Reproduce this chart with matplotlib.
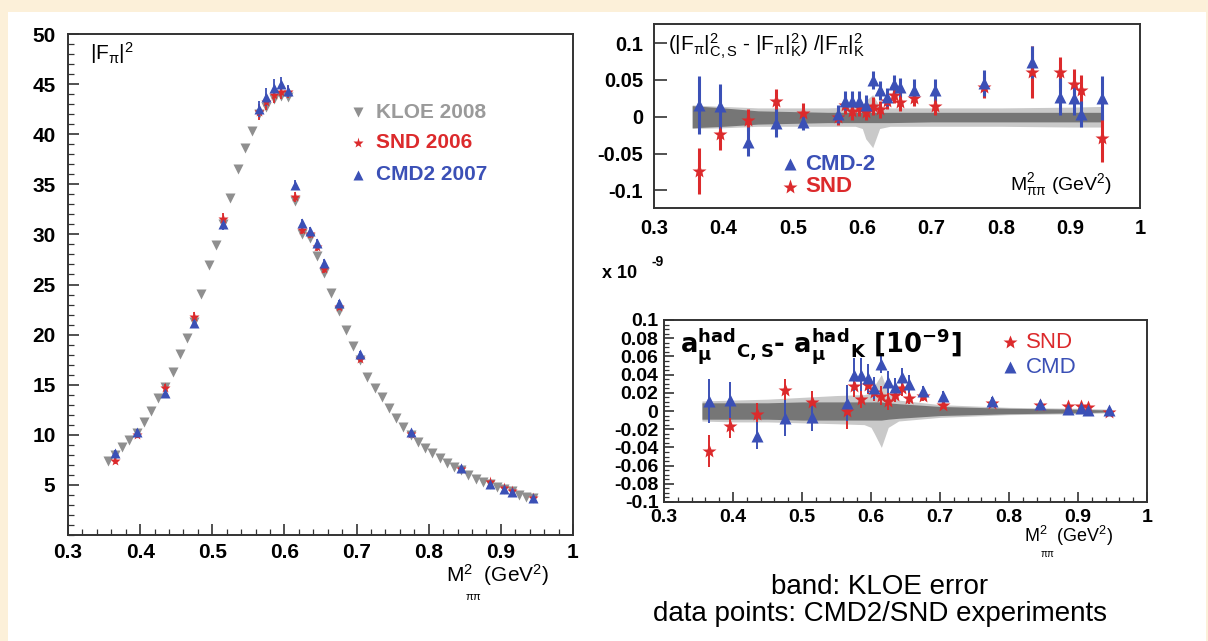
import matplotlib
matplotlib.use('Agg')
import matplotlib.pyplot as plt
from matplotlib.patches import Rectangle
from matplotlib.ticker import MultipleLocator, NullLocator

plt.rcParams['font.family'] = ['Liberation Sans', 'DejaVu Sans']
plt.rcParams['mathtext.fontset'] = 'custom'
plt.rcParams['mathtext.rm'] = 'Liberation Sans'
plt.rcParams['mathtext.it'] = 'Liberation Sans'
plt.rcParams['mathtext.bf'] = 'Liberation Sans:bold'
plt.rcParams['mathtext.default'] = 'regular'

# KLOE 2008 |F_pi|^2, bins of 0.01 GeV^2
kloe_x = [0.355, 0.365, 0.375, 0.385, 0.395, 0.405, 0.415, 0.425, 0.435, 0.445,
          0.455, 0.465, 0.475, 0.485, 0.495, 0.505, 0.515, 0.525, 0.535, 0.545,
          0.555, 0.565, 0.575, 0.585, 0.595, 0.605, 0.615, 0.625, 0.635, 0.645,
          0.655, 0.665, 0.675, 0.685, 0.695, 0.705, 0.715, 0.725, 0.735, 0.745,
          0.755, 0.765, 0.775, 0.785, 0.795, 0.805, 0.815, 0.825, 0.835, 0.845,
          0.855, 0.865, 0.875, 0.885, 0.895, 0.905, 0.915, 0.925, 0.935, 0.945]
kloe_ff = [7.4, 8.0, 8.8, 9.5, 10.2, 11.3, 12.4, 13.7, 14.8, 16.3,
           18.1, 19.7, 21.3, 24.1, 26.9, 28.9, 31.0, 33.6, 36.5, 38.6,
           40.3, 42.0, 42.7, 43.5, 43.8, 43.7, 33.3, 30.0, 29.6, 27.8,
           26.1, 24.2, 22.4, 20.5, 18.9, 17.5, 15.8, 14.7, 13.8, 12.7,
           11.7, 10.8, 10.0, 9.3, 8.7, 8.2, 7.7, 7.2, 6.8, 6.5,
           6.0, 5.6, 5.3, 5.1, 4.8, 4.6, 4.4, 4.0, 3.8, 3.7]

# CMD-2 / SND energy points
exp_x = [0.365, 0.395, 0.435, 0.475, 0.515, 0.565, 0.575, 0.585, 0.595, 0.605, 0.615, 0.625,
         0.635, 0.645, 0.655, 0.675, 0.705, 0.775, 0.845, 0.885, 0.905, 0.915, 0.945]

cmd_ff = [8.2, 10.3, 14.2, 21.2, 31.0, 42.5, 43.7, 44.6, 45.0, 44.3, 34.9, 31.1,
          30.3, 29.1, 27.1, 23.2, 18.1, 10.3, 6.7, 5.1, 4.6, 4.3, 3.7]
cmd_ff_err = [0.3, 0.3, 0.4, 0.5, 0.6, 0.8, 0.9, 0.9, 0.7, 0.6, 0.5, 0.4,
              0.4, 0.4, 0.4, 0.3, 0.3, 0.2, 0.15, 0.12, 0.1, 0.1, 0.1]
snd_ff = [7.4, 10.0, 14.7, 21.8, 31.5, 42.2, 43.2, 43.9, 44.2, 44.2, 33.7, 30.4,
          30.0, 28.7, 26.5, 22.8, 17.6, 10.1, 6.6, 5.3, 4.7, 4.4, 3.7]
snd_ff_err = [0.3, 0.3, 0.4, 0.5, 0.6, 0.8, 0.8, 0.8, 0.7, 0.6, 0.5, 0.4,
              0.4, 0.4, 0.4, 0.3, 0.3, 0.2, 0.15, 0.12, 0.1, 0.1, 0.1]

# relative difference to KLOE
cmd_rel = [0.016, 0.014, -0.034, -0.009, -0.007, 0.004, 0.022, 0.022, 0.022, 0.016, 0.050, 0.036,
           0.027, 0.045, 0.040, 0.037, 0.036, 0.046, 0.074, 0.027, 0.025, 0.004, 0.026]
cmd_rel_err = [0.040, 0.031, 0.020, 0.019, 0.011, 0.012, 0.013, 0.013, 0.013, 0.013, 0.012, 0.013,
               0.012, 0.012, 0.013, 0.014, 0.015, 0.018, 0.022, 0.025, 0.022, 0.018, 0.030]
snd_rel = [-0.074, -0.023, -0.004, 0.021, 0.005, -0.001, 0.016, 0.008, 0.013, 0.007, 0.015, 0.010,
           0.022, 0.030, 0.020, 0.026, 0.014, 0.040, 0.061, 0.061, 0.045, 0.037, -0.029]
snd_rel_err = [0.031, 0.022, 0.015, 0.017, 0.013, 0.010, 0.012, 0.012, 0.012, 0.012, 0.012, 0.012,
               0.012, 0.012, 0.012, 0.011, 0.012, 0.014, 0.035, 0.020, 0.020, 0.020, 0.032]

# KLOE error band (relative)
band_x = [0.355, 0.40, 0.45, 0.50, 0.55, 0.59, 0.60, 0.605, 0.615, 0.625, 0.64, 0.70, 0.80, 0.90, 0.945]
rel_stat_hi = [0.015, 0.012, 0.008, 0.007, 0.006, 0.006, 0.006, 0.006, 0.006, 0.006, 0.006, 0.006, 0.006, 0.006, 0.006]
rel_stat_lo = [-0.015, -0.013, -0.010, -0.009, -0.008, -0.008, -0.008, -0.008, -0.008, -0.008, -0.008, -0.007, -0.007, -0.007, -0.007]
rel_tot_hi = [0.016, 0.014, 0.012, 0.012, 0.012, 0.013, 0.016, 0.022, 0.030, 0.014, 0.012, 0.012, 0.012, 0.013, 0.014]
rel_tot_lo = [-0.016, -0.015, -0.013, -0.013, -0.013, -0.013, -0.016, -0.030, -0.042, -0.016, -0.013, -0.013, -0.013, -0.014, -0.014]

# a_mu difference [1e-9]
cmd_amu = [0.011, 0.012, -0.027, -0.008, -0.007, 0.009, 0.040, 0.040, 0.036, 0.025, 0.052, 0.032,
           0.026, 0.037, 0.030, 0.022, 0.017, 0.011, 0.008, 0.002, 0.003, 0.001, 0.001]
cmd_amu_err = [0.024, 0.020, 0.015, 0.020, 0.015, 0.020, 0.018, 0.018, 0.016, 0.012, 0.010, 0.012,
               0.010, 0.010, 0.010, 0.006, 0.005, 0.004, 0.003, 0.003, 0.003, 0.002, 0.002]
snd_amu = [-0.044, -0.016, -0.003, 0.023, 0.010, 0.000, 0.027, 0.013, 0.029, 0.021, 0.017, 0.011,
           0.018, 0.025, 0.014, 0.016, 0.007, 0.009, 0.007, 0.006, 0.005, 0.004, -0.001]
snd_amu_err = [0.018, 0.014, 0.012, 0.012, 0.012, 0.020, 0.012, 0.010, 0.010, 0.010, 0.010, 0.010,
               0.008, 0.008, 0.006, 0.005, 0.004, 0.003, 0.003, 0.003, 0.002, 0.002, 0.002]

amu_stat_hi = [0.009, 0.009, 0.009, 0.010, 0.010, 0.010, 0.010, 0.010, 0.010, 0.009, 0.008, 0.005, 0.003, 0.002, 0.001]
amu_stat_lo = [-0.009, -0.009, -0.009, -0.010, -0.010, -0.010, -0.010, -0.010, -0.010, -0.009, -0.008, -0.005, -0.003, -0.002, -0.001]
amu_tot_hi = [0.011, 0.012, 0.013, 0.015, 0.017, 0.018, 0.020, 0.028, 0.040, 0.020, 0.012, 0.007, 0.004, 0.003, 0.002]
amu_tot_lo = [-0.011, -0.012, -0.012, -0.013, -0.014, -0.015, -0.018, -0.025, -0.040, -0.018, -0.011, -0.007, -0.004, -0.003, -0.002]

x_ticks = [0.3, 0.4, 0.5, 0.6, 0.7, 0.8, 0.9, 1.0]
x_labels = ['0.3', '0.4', '0.5', '0.6', '0.7', '0.8', '0.9', '1']

kloe_c = '#8f8f8f'
snd_c = '#dc2a2c'
cmd_c = '#3b50b6'
band_dark = '#767676'
band_light = '#c9c9c9'

W, H = 1208, 641
fig = plt.figure(figsize=(W / 100, H / 100), dpi=100, facecolor='#fcf0d9')
fig.patches.append(Rectangle((8 / W, 0), 1198 / W, 629 / H, transform=fig.transFigure,
                             facecolor='white', edgecolor='none', zorder=-1))


def px_axes(x0, y0, x1, y1):
    return fig.add_axes([x0 / W, 1 - y1 / H, (x1 - x0) / W, (y1 - y0) / H])


def ftext(x, y, s, **kw):
    # text placed in pixel coordinates of the figure
    return fig.text(x / W, 1 - y / H, s, **kw)


def root_style(ax, size):
    ax.set_facecolor('none')
    for sp in ax.spines.values():
        sp.set_linewidth(1.4)
        sp.set_color('#333333')
    ax.tick_params(which='both', direction='in', top=False, right=False,
                   labelsize=size, width=1.2, color='#333333')
    ax.tick_params(which='major', length=8)
    ax.tick_params(which='minor', length=4, width=0.9)
    for lab in ax.get_xticklabels() + ax.get_yticklabels():
        lab.set_fontweight('bold')


# ---------------- left: |F_pi|^2 ----------------
ax1 = px_axes(68, 34, 573, 535)
ax1.plot(kloe_x, kloe_ff, 'v', color=kloe_c, ms=7, mec='none')
ax1.errorbar(exp_x, snd_ff, yerr=snd_ff_err, fmt='*', color=snd_c, ms=8, mec='none',
             elinewidth=1.3, capsize=0)
ax1.errorbar(exp_x, cmd_ff, yerr=cmd_ff_err, fmt='^', color=cmd_c, ms=7, mec='none',
             elinewidth=1.3, capsize=0)
ax1.set_xlim(0.3, 1.0)
ax1.set_ylim(0, 50)
ax1.set_xticks(x_ticks, x_labels)
ax1.set_yticks([5, 10, 15, 20, 25, 30, 35, 40, 45, 50])
ax1.xaxis.set_minor_locator(MultipleLocator(0.02))
ax1.yaxis.set_minor_locator(MultipleLocator(1))
root_style(ax1, 15)
ax1.tick_params(axis='x', pad=6)
ax1.tick_params(axis='y', pad=9)

ftext(90, 53, r'$|F_{\pi}|^2$', fontsize=15, va='center')
leg1 = [('v', kloe_c, 'KLOE 2008', 112), ('*', snd_c, 'SND 2006', 143), ('^', cmd_c, 'CMD2 2007', 175)]
for mk, col, lab, yy in leg1:
    ax1.plot([(358 - 68) / 505], [(535 - yy) / 501], mk, color=col, ms=8 if mk == '*' else 7,
             mec='none', transform=ax1.transAxes, clip_on=False)
    ftext(376, yy, lab, fontsize=15, fontweight='bold', color=('#9a9a9a' if col == kloe_c else col),
          va='center')
ftext(446, 575, r'M$^2$  (GeV$^2$)', fontsize=15, va='center')
ftext(465, 597, r'$\pi\pi$', fontsize=8, va='center')

# ---------------- top right: relative difference ----------------
ax2 = px_axes(654, 24, 1140, 208)
ax2.fill_between(band_x, rel_tot_lo, rel_tot_hi, color=band_light, lw=0)
ax2.fill_between(band_x, rel_stat_lo, rel_stat_hi, color=band_dark, lw=0)
ax2.errorbar(exp_x, snd_rel, yerr=snd_rel_err, fmt='*', color=snd_c, ms=11, mec='none',
             elinewidth=2.2, capsize=0)
ax2.errorbar(exp_x, cmd_rel, yerr=cmd_rel_err, fmt='^', color=cmd_c, ms=9, mec='none',
             elinewidth=2.2, capsize=0)
ax2.set_xlim(0.3, 1.0)
ax2.set_ylim(-0.124, 0.126)
ax2.set_xticks(x_ticks, x_labels)
ax2.set_yticks([-0.1, -0.05, 0, 0.05, 0.1], ['-0.1', '-0.05', '0', '0.05', '0.1'])
ax2.yaxis.set_minor_locator(NullLocator())
root_style(ax2, 14.5)
ax2.tick_params(axis='x', length=0, pad=8)
ax2.tick_params(axis='y', length=9, pad=8)

ftext(668, 46, r'$(|F_{\pi}|^2_{C,S}$ - $|F_{\pi}|^2_K)$ /$|F_{\pi}|^2_K$', fontsize=15, va='center')
ax2.plot([(790 - 654) / 486], [(208 - 164) / 184], '^', color=cmd_c, ms=9, mec='none',
         transform=ax2.transAxes)
ax2.plot([(790 - 654) / 486], [(208 - 187) / 184], '*', color=snd_c, ms=11, mec='none',
         transform=ax2.transAxes)
ftext(805, 164, 'CMD-2', fontsize=16, fontweight='bold', color=cmd_c, va='center')
ftext(805, 187, 'SND', fontsize=16, fontweight='bold', color=snd_c, va='center')
ftext(1010, 185, r'M$^2_{\pi\pi}$ (GeV$^2$)', fontsize=14, va='center')

# ---------------- bottom right: a_mu difference ----------------
ax3 = px_axes(664, 320, 1147, 502)
ax3.fill_between(band_x, amu_tot_lo, amu_tot_hi, color=band_light, lw=0)
ax3.fill_between(band_x, amu_stat_lo, amu_stat_hi, color=band_dark, lw=0)
ax3.errorbar(exp_x, snd_amu, yerr=snd_amu_err, fmt='*', color=snd_c, ms=10, mec='none',
             elinewidth=1.4, capsize=0)
ax3.errorbar(exp_x, cmd_amu, yerr=cmd_amu_err, fmt='^', color=cmd_c, ms=8, mec='none',
             elinewidth=1.4, capsize=0)
ax3.set_xlim(0.3, 1.0)
ax3.set_ylim(-0.1, 0.1)
ax3.set_xticks(x_ticks, x_labels)
amu_ticks = [-0.1, -0.08, -0.06, -0.04, -0.02, 0, 0.02, 0.04, 0.06, 0.08, 0.1]
ax3.set_yticks(amu_ticks, ['-0.1', '-0.08', '-0.06', '-0.04', '-0.02', '0',
                           '0.02', '0.04', '0.06', '0.08', '0.1'])
ax3.xaxis.set_minor_locator(MultipleLocator(0.02))
ax3.yaxis.set_minor_locator(MultipleLocator(0.005))
root_style(ax3, 14)
ax3.tick_params(axis='x', pad=5)
ax3.tick_params(axis='y', pad=4)
ax3.tick_params(which='major', length=7)
ax3.tick_params(which='minor', length=3.5)

ftext(602, 273, 'x 10', fontsize=13, fontweight='bold', va='center')
ftext(652, 262, '-9', fontsize=10, fontweight='bold', va='center')
ftext(680, 346, r'$\mathbf{a_{\mu}^{had}{}_{C,S}}$- $\mathbf{a_{\mu}^{had}{}_{K}}$ [10$^{\mathbf{-9}}$]',
      fontsize=18.5, fontweight='bold', va='center', math_fontfamily='dejavusans',
      family=['DejaVu Sans'])
ax3.plot([(1010 - 664) / 483], [(502 - 342) / 182], '*', color=snd_c, ms=10, mec='none',
         transform=ax3.transAxes)
ax3.plot([(1010 - 664) / 483], [(502 - 367) / 182], '^', color=cmd_c, ms=8, mec='none',
         transform=ax3.transAxes)
ftext(1026, 342, 'SND', fontsize=16, color=snd_c, va='center')
ftext(1026, 367, 'CMD', fontsize=16, color=cmd_c, va='center')
ftext(1024, 536, r'M$^2$  (GeV$^2$)', fontsize=13, va='center')
ftext(1040, 554, r'$\pi\pi$', fontsize=7, va='center')

ftext(880, 587, 'band: KLOE error', fontsize=20, ha='center', va='center')
ftext(880, 614, 'data points: CMD2/SND experiments', fontsize=20, ha='center', va='center')

fig.savefig('out.png', dpi=100, facecolor=fig.get_facecolor())
